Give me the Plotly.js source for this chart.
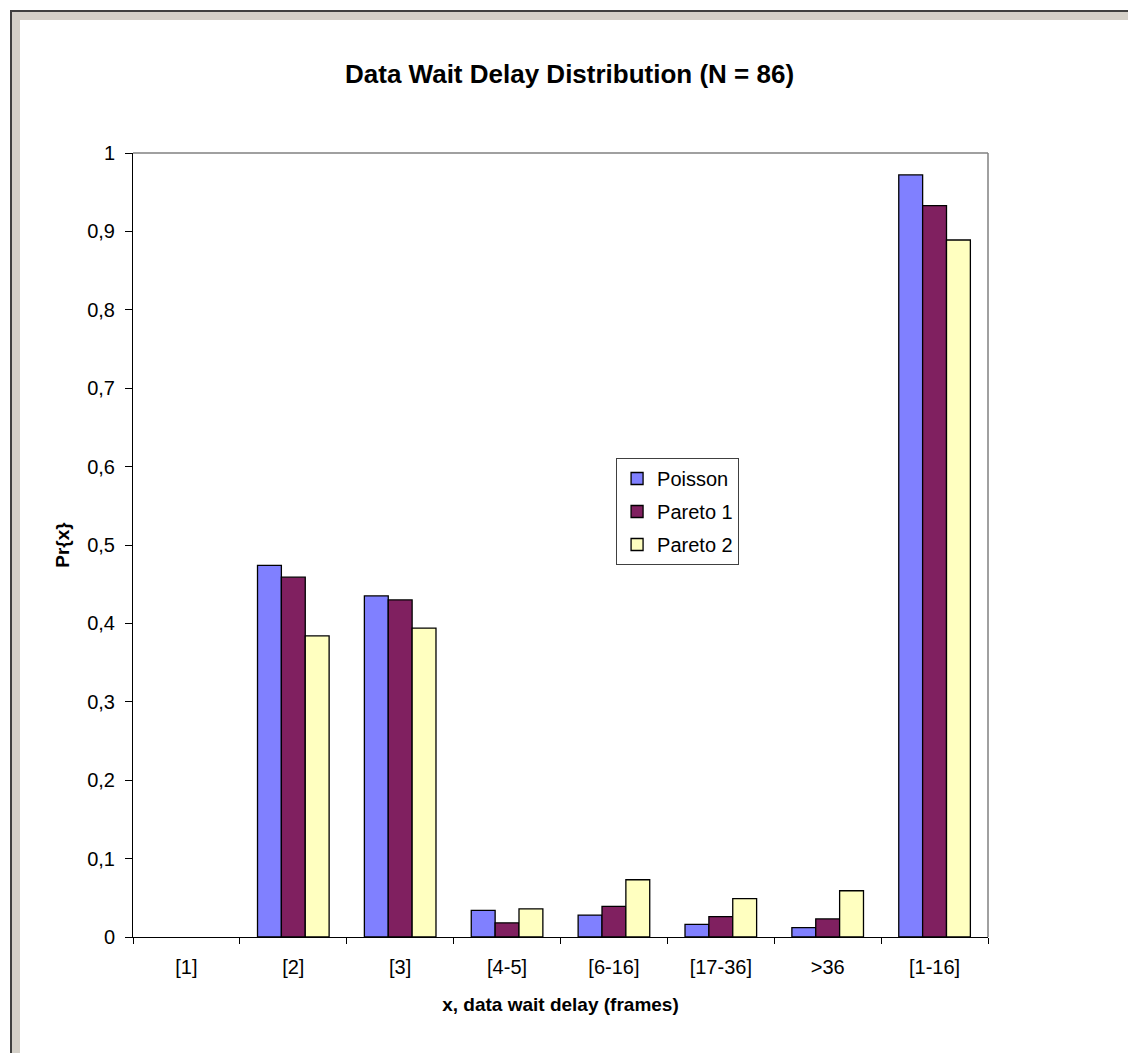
<!DOCTYPE html>
<html>
<head>
<meta charset="utf-8">
<script src="https://cdn.plot.ly/plotly-3.0.1.min.js"></script>
<style>
  html, body { margin: 0; padding: 0; background: #ffffff; width: 1128px; height: 1053px; overflow: hidden; }
  #frame { position: absolute; left: 10px; top: 10px; width: 1118px; height: 1043px;
           background: #d4d0c8; border-top: 2px solid #404040; border-left: 2px solid #404040; box-sizing: border-box; }
  #chart { position: absolute; left: 20px; top: 20px; width: 1108px; height: 1033px; background: #ffffff; }
</style>
</head>
<body>
<div id="frame"></div>
<div id="chart"></div>
<script>
const categories = ["[1]", "[2]", "[3]", "[4-5]", "[6-16]", "[17-36]", ">36", "[1-16]"];
const poisson = [0, 0.474, 0.435, 0.034, 0.028, 0.016, 0.012, 0.972];
const pareto1 = [0, 0.459, 0.430, 0.018, 0.039, 0.026, 0.023, 0.933];
const pareto2 = [0, 0.384, 0.394, 0.036, 0.073, 0.049, 0.059, 0.889];
const seriesNames = ["Poisson", "Pareto 1", "Pareto 2"];
const seriesColors = ["#8080ff", "#802060", "#ffffc0"];

const font = "Arial, 'Liberation Sans', sans-serif";
// zero-height bars are not outlined in the original, so they are left undrawn
const data = [poisson, pareto1, pareto2].map((vals, i) => ({
  type: "bar",
  name: seriesNames[i],
  legendgroup: "g" + i,
  x: categories,
  y: vals.map(v => (v === 0 ? null : v)),
  marker: { color: seriesColors[i], line: { color: "#000000", width: 1.3 } },
  hoverinfo: "x+y+name"
}));

const layout = {
  width: 1108, height: 1033,
  paper_bgcolor: "#ffffff", plot_bgcolor: "#ffffff",
  margin: { l: 113, r: 140, t: 133, b: 116 },
  separators: ",.",
  font: { family: font, color: "#000000", size: 20 },
  title: { text: "<b>Data Wait Delay Distribution (N = 86)</b>", font: { family: font, size: 26, color: "#000000" },
           x: 0.496, xanchor: "center", y: 0.9475, yanchor: "middle" },
  barmode: "group", bargap: 0.33, bargroupgap: 0,
  showlegend: true,
  legend: { x: 0.565, y: 0.611, xanchor: "left", yanchor: "top", bgcolor: "#ffffff",
            bordercolor: "#404040", borderwidth: 1, font: { family: font, size: 20 },
            traceorder: "grouped", itemwidth: 30, tracegroupgap: 4 },
  xaxis: {
    type: "category", tickson: "boundaries", ticks: "outside", ticklen: 6, tickcolor: "#000000",
    showline: true, linecolor: "#000000", linewidth: 1, showgrid: false, zeroline: false,
    tickfont: { family: font, size: 20 }, ticklabelstandoff: 12,
    title: { text: "<b>x, data wait delay (frames)</b>", font: { family: font, size: 19 }, standoff: 20 }
  },
  yaxis: {
    range: [0, 1], dtick: 0.1, tick0: 0, ticks: "outside", ticklen: 7, tickcolor: "#000000",
    showline: true, linecolor: "#000000", linewidth: 1, showgrid: false, zeroline: false,
    tickfont: { family: font, size: 20 }, ticklabelstandoff: 6,
    title: { text: "<b>Pr{x}</b>", font: { family: font, size: 19 }, standoff: 12 }
  },
  shapes: [
    { type: "line", xref: "paper", yref: "paper", x0: 0, x1: 1, y0: 1, y1: 1, line: { color: "#808080", width: 1.5 } },
    { type: "line", xref: "paper", yref: "paper", x0: 1, x1: 1, y0: 0, y1: 1, line: { color: "#808080", width: 1.5 } }
  ]
};

Plotly.newPlot("chart", data, layout, { displayModeBar: false, staticPlot: true });
</script>
</body>
</html>
